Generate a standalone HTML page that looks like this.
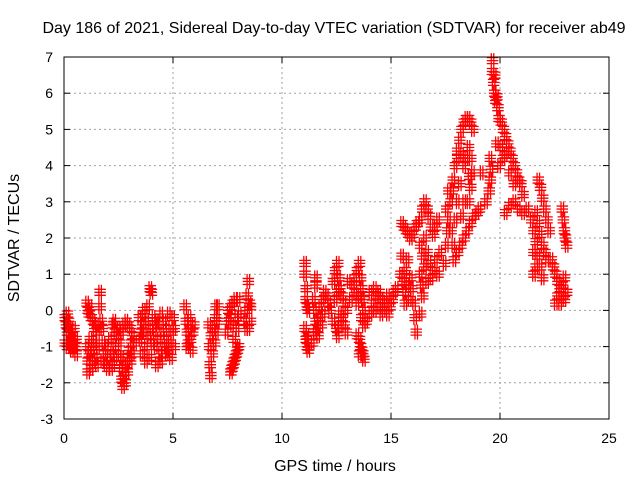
<!DOCTYPE html>
<html><head><meta charset="utf-8"><style>
html,body{margin:0;padding:0;background:#fff;}
svg{display:block;font-family:"Liberation Sans",sans-serif;}
</style></head><body>
<svg id="chart" width="640" height="480" viewBox="0 0 640 480">
<rect x="0" y="0" width="640" height="480" fill="#fff"/>
<text x="334" y="33" font-size="16" text-anchor="middle" fill="#000">Day 186 of 2021, Sidereal Day-to-day VTEC variation (SDTVAR) for receiver ab49</text>
<g id="grid"></g>
<g id="ticks"></g>
<g id="points"></g>
<rect x="64" y="57" width="545" height="362" fill="none" stroke="#000" stroke-width="1"/>
<text x="335" y="471" font-size="16" text-anchor="middle">GPS time / hours</text>
<text x="19" y="238" font-size="16" text-anchor="middle" transform="rotate(-90 19 238)">SDTVAR / TECUs</text>
</svg>
<script>
const xTicks = [0,5,10,15,20,25];
const yTicks = [-3,-2,-1,0,1,2,3,4,5,6,7];
const hours = [
0,0,0.05,0.1,0.1,0.1,0.15,0.2,0.2,0.25,0.3,0.3,0.35,0.4,0.45,0.5,0.4,0.5,0.15,0.25,
1.0,1.05,1.1,1.15,1.2,1.3,1.35,1.45,1.5,
1.0,1.05,1.1,1.15,1.2,1.25,1.3,1.35,1.4,1.45,1.5,1.05,
1.6,1.6,1.65,1.7,1.75,1.8,1.85,1.9,2.0,2.05,2.1,2.15,2.2,2.25,1.95,2.3,1.7,
2.2,2.25,2.3,2.4,2.45,
2.5,2.6,2.7,2.8,2.9,3.0,3.1,3.2,
2.5,2.55,2.6,2.65,2.7,2.75,2.8,2.85,2.9,2.95,3.0,3.05,3.1,2.6,2.7,
3.4,3.45,3.5,3.55,3.6,3.65,3.7,3.75,3.8,3.85,3.9,3.95,4.0,3.5,3.7,3.6,3.9,3.95,
4.05,4.1,4.15,4.2,4.25,4.3,4.35,4.4,4.45,4.5,4.4,4.2,
4.55,4.6,4.65,4.7,4.75,4.8,4.85,4.9,4.95,5.0,4.7,5.0,
5.5,5.55,5.6,5.65,5.7,5.75,5.8,5.85,5.9,5.6,5.7,
6.6,6.62,6.65,6.68,6.7,6.75,6.8,6.85,6.9,6.95,7.0,7.0,6.92,
7.4,7.45,7.5,7.55,7.6,7.65,7.7,7.8,7.85,7.9,7.95,8.0,7.75,
7.6,7.65,7.7,7.75,7.8,7.85,7.9,7.95,
8.25,8.3,8.3,8.35,8.4,8.45,8.4,8.5,8.5,
11.0,11.0,11.05,11.05,11.1,11.15,11.0,11.05,11.1,11.15,11.1,
11.4,11.45,11.5,11.55,11.6,11.65,11.7,11.75,11.8,11.85,11.9,11.5,11.5,12.0,12.1,12.15,11.35,11.45,
12.3,12.4,12.5,12.55,12.6,12.7,12.8,12.9,12.4,12.5,12.6,12.3,12.45,12.5,12.6,12.7,12.8,12.9,
13.3,13.4,13.5,13.55,13.6,13.65,13.7,13.5,13.4,13.3,13.2,13.1,13.0,13.6,13.7,13.8,
13.4,13.5,13.55,13.6,13.65,13.7,13.5,
14.0,14.1,14.2,14.3,14.4,14.5,14.6,14.7,14.8,14.9,15.0,15.1,15.2,14.2,14.5,14.0,14.8,14.4,
15.4,15.45,15.5,15.55,15.6,15.7,15.8,15.85,15.9,16.0,16.05,16.1,15.6,15.7,
15.45,15.55,15.65,15.75,15.85,15.95,16.05,16.15,
16.3,16.4,16.5,16.6,16.7,16.8,16.9,17.0,17.1,
16.3,16.4,16.5,16.35,16.5,16.6,16.7,16.8,16.9,17.0,17.1,16.6,16.3,16.4,16.3,17.2,
17.4,17.5,17.55,17.6,17.7,17.75,17.8,17.9,18.0,17.5,17.6,17.7,17.8,17.9,18.0,18.1,18.2,18.3,
17.85,18.0,18.15,18.3,18.45,18.6,18.75,18.9,19.0,
18.0,18.1,18.2,18.3,18.4,18.5,18.6,18.7,18.5,18.4,18.3,18.2,18.6,18.7,18.6,18.5,18.55,
19.6,19.6,19.65,19.7,19.75,19.8,19.85,19.7,
19.5,19.55,19.5,19.45,19.3,19.1,
19.9,20.0,20.1,20.2,20.3,20.4,20.5,20.6,20.7,19.8,20.0,20.2,20.4,20.6,20.8,19.9,20.1,
20.2,20.4,20.6,20.8,21.0,21.2,21.0,20.9,
21.4,21.5,21.6,21.7,21.8,21.9,21.5,21.6,21.7,21.8,21.9,22.0,22.1,21.5,21.6,
21.7,21.8,21.9,22.0,22.1,22.2,
22.3,22.4,22.5,22.6,22.7,22.8,22.9,23.0,22.7,22.8,22.9,22.6,22.5,
22.8,22.85,22.9,22.95,23.0
];
const sdtvar = [
-0.2,-0.9,-0.4,-0.1,-0.6,-1.0,-0.3,-0.5,-0.9,-0.6,-0.7,-1.1,-0.8,-0.9,-1.0,-1.2,-0.5,-0.8,-0.9,-1.0,
0.2,0.0,-0.1,0.1,-0.2,-0.3,-0.5,-0.4,-0.6,
-1.0,-1.4,-1.2,-0.8,-1.6,-1.1,-1.4,-0.9,-1.3,-1.5,-1.0,-1.7,
0.5,0.1,-0.3,-0.5,-0.9,-1.2,-1.5,-1.0,-1.3,-0.8,-1.6,-1.2,-1.5,-1.0,-1.6,-1.3,-1.4,
-0.4,-0.3,-0.6,-0.7,-0.5,
-0.9,-0.6,-0.4,-0.3,-0.4,-0.5,-0.7,-0.9,
-1.2,-1.6,-1.9,-2.1,-1.8,-2.0,-1.5,-1.7,-1.3,-1.1,-1.4,-0.9,-1.2,-1.3,-1.5,
-0.2,-0.8,-1.2,-0.4,-0.1,-0.6,-1.0,-0.3,0.1,-0.7,-1.3,-0.5,-0.9,-0.6,-1.4,0.0,0.6,0.5,
-0.2,-0.6,-1.0,-1.5,-0.4,-0.8,-1.2,-0.1,-0.6,-1.0,-1.4,-0.3,
-0.3,-0.8,-1.2,-0.5,-0.1,-0.9,-1.3,-0.6,-0.2,-1.0,-1.1,-0.5,
0.1,-0.3,-0.6,-0.9,-0.5,-0.8,-1.1,-0.6,-0.4,-1.0,-0.2,
-0.4,-1.0,-1.5,-1.8,-0.7,-1.2,-0.5,-0.9,-0.2,-0.6,-0.3,0.1,0.1,
-0.6,-0.3,0.0,-0.2,0.1,-0.4,0.2,0.3,-0.2,-0.5,0.3,-0.1,-0.8,
-1.7,-1.6,-1.5,-1.4,-1.3,-1.2,-1.1,-1.0,
-0.3,0.0,-0.5,0.4,0.8,0.2,-0.5,-0.3,0.1,
1.3,1.0,0.6,0.3,0.1,0.0,-0.5,-0.8,-1.0,-1.1,-0.7,
0.3,0.0,-0.3,-0.5,-0.7,-0.2,0.1,-0.4,0.3,-0.1,0.5,0.7,0.9,0.4,0.2,0.0,-0.9,-0.6,
0.8,1.1,1.3,0.9,0.6,0.4,0.2,0.0,0.3,0.5,-0.1,-0.3,-0.5,-0.7,-0.4,-0.2,-0.4,-0.6,
0.9,1.1,1.3,0.9,0.6,0.3,0.0,0.4,0.2,0.5,0.7,0.3,0.8,-0.2,-0.4,-0.3,
-0.7,-0.8,-1.0,-1.1,-1.2,-1.35,-1.2,
0.5,0.2,0.0,0.4,0.1,0.3,0.0,0.2,0.4,0.1,0.3,0.5,0.6,0.6,-0.1,-0.1,-0.1,0.5,
1.0,1.5,0.8,0.5,1.1,0.7,0.3,0.9,0.6,0.2,-0.2,-0.6,0.2,1.4,
2.4,2.3,2.2,2.1,2.0,2.1,2.3,2.4,
2.5,2.8,3.0,2.8,2.6,2.3,2.1,2.3,2.5,
1.0,1.5,2.0,0.7,1.2,1.6,1.3,0.9,1.1,1.4,1.0,0.8,-0.1,0.4,1.8,1.6,
1.3,1.8,2.2,2.5,3.0,3.3,3.6,4.0,4.2,2.8,3.3,2.2,1.8,2.5,3.0,3.5,2.6,3.0,
1.4,1.6,1.8,2.0,2.2,2.4,2.6,2.7,2.8,
4.4,4.7,5.0,5.2,5.3,5.3,5.2,5.0,4.5,4.2,4.0,4.3,4.2,3.8,3.4,3.0,3.7,
6.9,6.6,6.3,6.0,5.8,5.9,5.6,6.5,
4.2,3.9,3.6,3.3,3.0,3.8,
5.3,5.2,5.0,4.8,4.6,4.4,4.2,4.0,3.8,4.6,4.5,4.3,3.8,3.5,3.6,4.0,4.2,
2.7,2.9,3.0,2.8,2.7,2.8,3.2,3.5,
2.5,2.2,1.9,1.5,1.2,0.9,1.6,1.2,2.4,2.1,1.8,1.6,1.4,1.0,2.7,
3.6,3.4,3.1,2.8,2.5,2.2,
1.4,1.2,1.0,0.8,0.6,0.4,0.3,0.5,0.2,0.7,0.9,0.4,0.2,
2.8,2.5,2.2,2.0,1.8
];
const NS='http://www.w3.org/2000/svg';
const X0=64,X1=609,Y0=419,Y1=57;
function xScale(t){return X0+(t-0)/(25-0)*(X1-X0);}
function yScale(v){return Y0-(v-(-3))/(7-(-3))*(Y0-Y1);}
const grid=document.getElementById('grid'),ticks=document.getElementById('ticks'),pts=document.getElementById('points');
function mk(tag,attrs,parent){const e=document.createElementNS(NS,tag);for(const k in attrs)e.setAttribute(k,attrs[k]);parent.appendChild(e);return e;}
xTicks.forEach(t=>{
  const x=xScale(t);
  if(t>0&&t<25){const g=mk('line',{x1:x,y1:Y0,x2:x,y2:Y1,stroke:'#a0a0a0','stroke-dasharray':'2,3'},grid);
  
  }
  const a=mk('line',{x1:x,y1:Y0,x2:x,y2:Y0-6,stroke:'#000'},ticks);
  
  
  const b=mk('line',{x1:x,y1:Y1,x2:x,y2:Y1+6,stroke:'#000'},ticks);
  
  
  const l=mk('text',{x:x,y:443,'font-size':14,'text-anchor':'middle'},ticks);l.textContent=t;
  
  
});
yTicks.forEach(v=>{
  const y=yScale(v);
  if(v>-3&&v<7){const g=mk('line',{x1:X0,y1:y,x2:X1,y2:y,stroke:'#a0a0a0','stroke-dasharray':'2,3'},grid);
  
  }
  const a=mk('line',{x1:X0,y1:y,x2:X0+6,y2:y,stroke:'#000'},ticks);
  
  
  const b=mk('line',{x1:X1,y1:y,x2:X1-6,y2:y,stroke:'#000'},ticks);
  
  
  const l=mk('text',{x:53,y:y+5,'font-size':14,'text-anchor':'end'},ticks);l.textContent=v;
  
  
});
let d='';
for(let i=0;i<hours.length;i++){
  const x=xScale(hours[i]),y=yScale(sdtvar[i]);
  for(const dy of [-3,0,3]){
    d+=`M${x-4.5},${y+dy}h9M${x},${y+dy-4.5}v9`;
    d+=`M${x-2},${y+dy}h9M${x+2.5},${y+dy-4.5}v9`;
  }
}
const p=mk('path',{d:d,stroke:'#ff0000','stroke-width':1.3,fill:'none'},pts);


</script>
</body></html>
